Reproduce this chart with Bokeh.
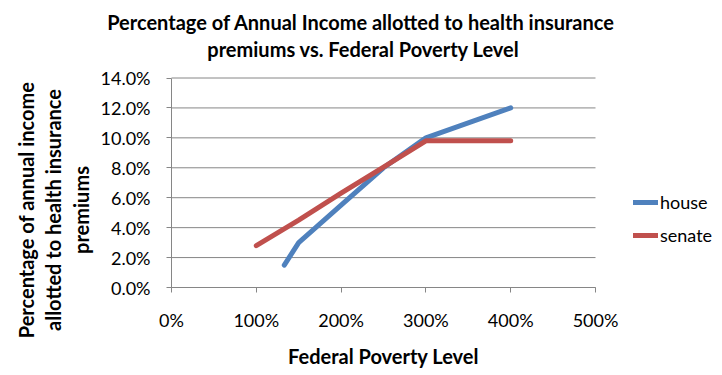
import math
from bokeh.plotting import figure
from bokeh.models import Range1d, FixedTicker, PrintfTickFormatter, Label, Legend, LegendItem
from bokeh.embed import file_html
from bokeh.resources import INLINE

# ---- data ----
house_fpl = [133, 150, 200, 250, 300, 400]
house_pct = [1.5, 3.0, 5.5, 8.0, 10.0, 12.0]
senate_fpl = [100, 150, 200, 250, 300, 400]
senate_pct = [2.8, 4.5, 6.3, 8.05, 9.8, 9.8]
x_ticks = [0, 100, 200, 300, 400, 500]
y_ticks = [0, 2, 4, 6, 8, 10, 12, 14]
series_names = ["house", "senate"]
title_lines = ["Percentage of Annual  Income allotted to health insurance",
               "premiums vs. Federal Poverty Level"]
y_title_lines = ["Percentage of annual income",
                 "allotted to health insurance",
                 "premiums"]
x_title = "Federal Poverty Level"

FONT = "Lato"
GRID = "#868686"
BLUE = "#4F81BD"
RED = "#C0504D"

W, H = 722, 375
# plot area in canvas pixels
PX_L, PX_R, PX_T, PX_B = 171.0, 595.0, 77.5, 287.0
xs = (PX_R - PX_L) / (x_ticks[-1] - x_ticks[0])
ys = (PX_B - PX_T) / (y_ticks[-1] - y_ticks[0])
x_range = Range1d(x_ticks[0] - PX_L / xs, x_ticks[-1] + (W - PX_R) / xs)
y_range = Range1d(y_ticks[0] - (H - PX_B) / ys, y_ticks[-1] + PX_T / ys)

p = figure(width=W, height=H, output_backend="svg", toolbar_location=None,
           x_range=x_range, y_range=y_range,
           min_border_left=0, min_border_right=0, min_border_top=0, min_border_bottom=0)
p.outline_line_color = None
p.background_fill_color = "white"
p.border_fill_color = "white"
p.xgrid.visible = False
p.ygrid.visible = False

# horizontal gridlines across the plot area only
p.segment(x0=[x_ticks[0]] * len(y_ticks), x1=[x_ticks[-1]] * len(y_ticks),
          y0=y_ticks, y1=y_ticks, line_color=GRID, line_width=1)

p.xaxis.ticker = FixedTicker(ticks=x_ticks)
p.yaxis.ticker = FixedTicker(ticks=y_ticks)
p.xaxis.formatter = PrintfTickFormatter(format="%d%%")
p.yaxis.formatter = PrintfTickFormatter(format="%.1f%%")
p.xaxis.fixed_location = y_ticks[0]
p.yaxis.fixed_location = x_ticks[0]
p.xaxis.bounds = (x_ticks[0], x_ticks[-1])
p.yaxis.bounds = (y_ticks[0], y_ticks[-1])
for ax in (p.xaxis, p.yaxis):
    ax.axis_line_color = GRID
    ax.major_tick_line_color = GRID
    ax.major_tick_out = 5
    ax.major_tick_in = 0
    ax.minor_tick_line_color = None
    ax.major_label_text_font = FONT
    ax.major_label_text_font_size = "18px"
    ax.major_label_text_color = "black"
p.xaxis.major_label_standoff = 16
p.yaxis.major_label_standoff = 16

r_house = p.line(house_fpl, house_pct, line_color=BLUE, line_width=5, line_cap="round", line_join="round")
r_senate = p.line(senate_fpl, senate_pct, line_color=RED, line_width=5, line_cap="round", line_join="round")

legend = Legend(items=[LegendItem(label=series_names[0], renderers=[r_house]),
                       LegendItem(label=series_names[1], renderers=[r_senate])],
                location=(633, 129), orientation="vertical",
                glyph_width=25, glyph_height=20, label_height=20,
                label_standoff=2, spacing=11, padding=0, margin=0,
                border_line_alpha=0, background_fill_alpha=0,
                label_text_font=FONT, label_text_font_size="18px",
                label_text_color="black")
p.add_layout(legend, "center")

TSIZE = "20px"
# titles (screen units: x from left, y from bottom of canvas)
title_pos = [(363, H - 21), (363, H - 48)]
for txt, (sx, sy) in zip(title_lines, title_pos):
    p.add_layout(Label(x=sx, y=sy, x_units="screen", y_units="screen", text=txt,
                       text_font=FONT, text_font_style="bold", text_font_size=TSIZE,
                       text_color="black", text_align="center", text_baseline="alphabetic"))

ytitle_x = [25, 52, 80]
for txt, sx in zip(y_title_lines, ytitle_x):
    p.add_layout(Label(x=sx, y=H - 209.5, x_units="screen", y_units="screen", text=txt,
                       angle=math.pi / 2, text_font=FONT, text_font_style="bold",
                       text_font_size=TSIZE, text_color="black",
                       text_align="center", text_baseline="alphabetic"))

p.add_layout(Label(x=383, y=H - 355, x_units="screen", y_units="screen", text=x_title,
                   text_font=FONT, text_font_style="bold", text_font_size=TSIZE,
                   text_color="black", text_align="center", text_baseline="alphabetic"))

open("out.html", "w").write(file_html(p, INLINE))
